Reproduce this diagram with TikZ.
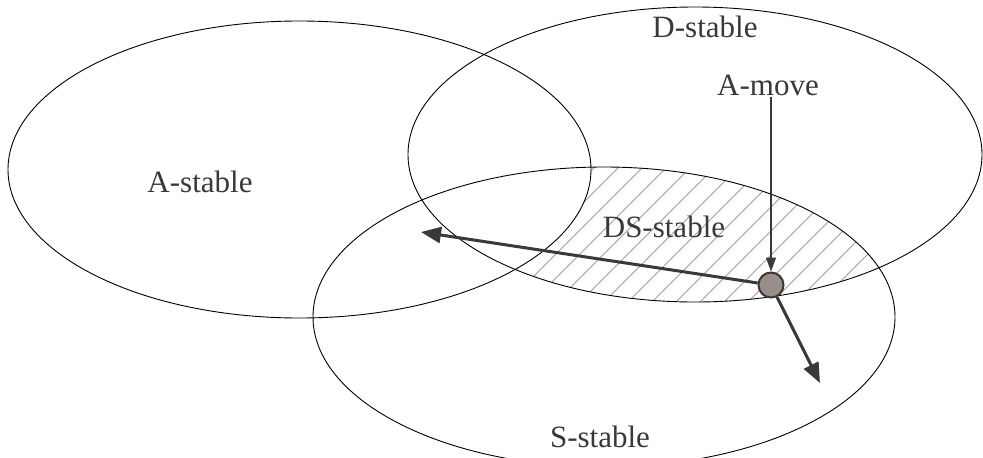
\documentclass[tikz,border=0pt]{standalone}
\usepackage{fontspec}
\setmainfont{Liberation Serif}
\usetikzlibrary{shapes.geometric,arrows.meta}
\definecolor{ink}{HTML}{3A3838}
\definecolor{hatchc}{HTML}{A89A96}
\definecolor{dotfill}{HTML}{9B8E8A}
\tikzset{
  region/.style={draw=black, line width=0.9pt, ellipse, inner sep=0pt},
  lbl/.style={text=ink, inner sep=0pt, font=\fontsize{31}{36}\selectfont},
  hatchline/.style={draw=hatchc, line width=0.8pt},
  thinarrow/.style={draw=ink, line width=1.3pt, -{Triangle[length=14pt,width=10pt]}},
  thickarrow/.style={draw=ink, line width=3pt, -{Triangle[length=20pt,width=16pt]}},
  moveDot/.style={circle, draw=ink, line width=2pt, fill=dotfill, minimum size=25pt, inner sep=0pt}
}
\begin{document}
\begin{tikzpicture}[x=1pt,y=-1pt]
\useasboundingbox (0,0) rectangle (983,458);
% hatch of (D and S) outside A
\begin{scope}
  \clip (695,154.5) ellipse [x radius=287pt, y radius=147.5pt];
  \clip (604,317) ellipse [x radius=291pt, y radius=150pt];
  \begin{scope}[even odd rule]
    \clip (-10,-10) rectangle (1000,470) (299.5,169.5) ellipse [x radius=291.5pt, y radius=148.5pt];
    \foreach \k in {0,...,26} {
      \draw[hatchline] ({350+\k*24},340) -- ++(220,-220);
    }
  \end{scope}
\end{scope}
% ellipses
\node[region, minimum width=583pt, minimum height=297pt] (A) at (299.5,169.5) {};
\node[region, minimum width=574pt, minimum height=295pt] (D) at (695,154.5) {};
\node[region, minimum width=582pt, minimum height=300pt] (S) at (604,317) {};
% labels
\node[lbl] (Alabel) at (200,182) {A-stable};
\node[lbl] (Dlabel) at (705,27) {D-stable};
\node[lbl] (Mlabel) at (768,85) {A-move};
\node[lbl] (DSlabel) at (664,227) {DS-stable};
\node[lbl] (Slabel) at (600,437) {S-stable};
% dot and arrows
\node[moveDot] (dot) at (771,285) {};
\coordinate (mstart) at (771,97);
\coordinate (ltip) at (421,232);
\coordinate (dtip) at (820,383);
\draw[thickarrow] (dot) -- (ltip);
\draw[thickarrow] (dot) -- (dtip);
\draw[thinarrow] (mstart) -- (dot.north);
\end{tikzpicture}
\end{document}
